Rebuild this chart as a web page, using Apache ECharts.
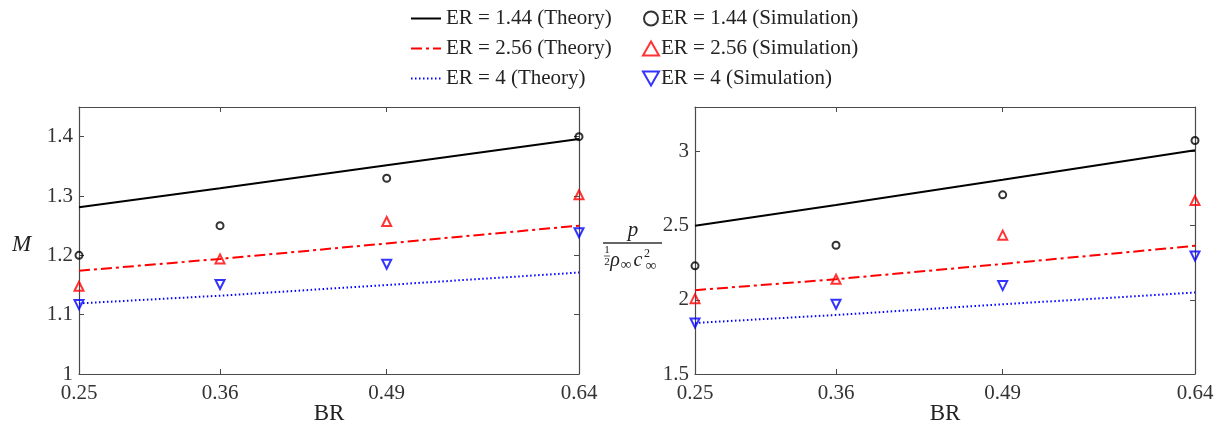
<!DOCTYPE html>
<html>
<head>
<meta charset="utf-8">
<script src="https://cdn.jsdelivr.net/npm/echarts@6/dist/echarts.min.js"></script>
<style>html,body{margin:0;padding:0;background:#fff}#c{width:1220px;height:431px}</style>
</head>
<body>
<div id="c"></div>
<script>
const BR = [0.25, 0.36, 0.49, 0.64];
const xTicks = [0.25, 0.36, 0.49, 0.64];
const mTicks = [1, 1.1, 1.2, 1.3, 1.4];
const pTicks = [1.5, 2, 2.5, 3];

const M_theory_144 = [1.281, 1.313, 1.352, 1.396];
const M_theory_256 = [1.174, 1.194, 1.220, 1.250];
const M_theory_4   = [1.119, 1.132, 1.150, 1.171];
const M_sim_144 = [1.200, 1.250, 1.330, 1.400];
const M_sim_256 = [1.148, 1.194, 1.257, 1.302];
const M_sim_4   = [1.117, 1.151, 1.185, 1.238];

const P_theory_144 = [2.500, 2.640, 2.809, 3.009];
const P_theory_256 = [2.065, 2.139, 2.242, 2.364];
const P_theory_4   = [1.844, 1.898, 1.970, 2.049];
const P_sim_144 = [2.229, 2.368, 2.708, 3.074];
const P_sim_256 = [2.008, 2.139, 2.436, 2.669];
const P_sim_4   = [1.844, 1.970, 2.096, 2.296];

const names = {
  t144: 'ER = 1.44 (Theory)', t256: 'ER = 2.56 (Theory)', t4: 'ER = 4 (Theory)',
  s144: 'ER = 1.44 (Simulation)', s256: 'ER = 2.56 (Simulation)', s4: 'ER = 4 (Simulation)'
};
const FONT = '"Liberation Serif", "Times New Roman", serif';
const AX = '#4a4a4a';
const DOWN_TRI = 'path://M0,0 L10,0 L5,8.66 Z';

function pairs(xs, ys) { return xs.map((x, i) => [x, ys[i]]); }

function theory(name, data, color, type, gi) {
  return {
    name, type: 'line', xAxisIndex: gi * 2, yAxisIndex: gi * 2,
    data: pairs(BR, data), symbol: 'none', z: 2,
    lineStyle: { color, width: 2, type }, itemStyle: { color }
  };
}
function sim(name, data, color, symbol, size, gi) {
  return {
    name, type: 'scatter', xAxisIndex: gi * 2, yAxisIndex: gi * 2,
    data: pairs(BR, data), symbol, symbolSize: size, z: 5,
    itemStyle: { color: 'rgba(255,255,255,0)', borderColor: color, borderWidth: 2 }
  };
}

function xAxes(gi) {
  const base = { type: 'value', gridIndex: gi, min: 0.25, max: 0.64,
    splitLine: { show: false },
    axisLine: { show: true, onZero: false, lineStyle: { color: AX, width: 1.2 } },
    axisTick: { show: true, inside: true, length: 5, customValues: xTicks, lineStyle: { color: AX } } };
  return [
    Object.assign({}, base, { position: 'bottom', name: 'BR', nameLocation: 'middle', nameGap: 28,
      nameMoveOverlap: false,
      nameTextStyle: { fontFamily: FONT, fontSize: 23, color: '#222' },
      axisLabel: { customValues: xTicks, fontFamily: FONT, fontSize: 21, color: '#333', margin: 9,
        formatter: v => String(v) } }),
    Object.assign({}, base, { position: 'top', axisLabel: { show: false } })
  ];
}
function yAxes(gi, min, max, ticks) {
  const base = { type: 'value', gridIndex: gi, min, max,
    splitLine: { show: false },
    axisLine: { show: true, onZero: false, lineStyle: { color: AX, width: 1.2 } },
    axisTick: { show: true, inside: true, length: 5, customValues: ticks, lineStyle: { color: AX } } };
  return [
    Object.assign({}, base, { position: 'left',
      axisLabel: { customValues: ticks, fontFamily: FONT, fontSize: 21, color: '#333', margin: 6,
        formatter: v => String(v) } }),
    Object.assign({}, base, { position: 'right', axisLabel: { show: false } })
  ];
}

const option = {
  animation: false,
  backgroundColor: '#fff',
  legend: [
    { left: 405, top: 3, orient: 'vertical', itemWidth: 30, itemHeight: 14, itemGap: 9,
      itemStyle: { opacity: 0 },
      textStyle: { fontFamily: FONT, fontSize: 21, lineHeight: 21, color: '#222', padding: [0, 0, 0, 0] },
      data: [names.t144, names.t256, names.t4] },
    { left: 637, top: 3, orient: 'vertical', itemWidth: 16, itemHeight: 14, itemGap: 9,
      textStyle: { fontFamily: FONT, fontSize: 21, lineHeight: 21, color: '#222', padding: [0, 0, 0, -3] },
      data: [names.s144, names.s256, names.s4] }
  ],
  grid: [
    { left: 79, top: 107, width: 500, bottom: 57, outerBoundsMode: 'none', containLabel: false },
    { left: 695, top: 107, width: 500, bottom: 57, outerBoundsMode: 'none', containLabel: false }
  ],
  xAxis: [...xAxes(0), ...xAxes(1)],
  yAxis: [...yAxes(0, 1, 1.45, mTicks), ...yAxes(1, 1.5, 3.3, pTicks)],
  series: [
    theory(names.t144, M_theory_144, '#000', 'solid', 0),
    theory(names.t256, M_theory_256, '#ff0000', [11, 4, 3, 4], 0),
    theory(names.t4, M_theory_4, '#0000ff', [1.5, 2.5], 0),
    sim(names.s144, M_sim_144, '#000', 'circle', 7, 0),
    sim(names.s256, M_sim_256, '#ff0000', 'triangle', 9, 0),
    sim(names.s4, M_sim_4, '#0000ff', DOWN_TRI, 9, 0),
    theory(names.t144, P_theory_144, '#000', 'solid', 1),
    theory(names.t256, P_theory_256, '#ff0000', [11, 4, 3, 4], 1),
    theory(names.t4, P_theory_4, '#0000ff', [1.5, 2.5], 1),
    sim(names.s144, P_sim_144, '#000', 'circle', 7, 1),
    sim(names.s256, P_sim_256, '#ff0000', 'triangle', 9, 1),
    sim(names.s4, P_sim_4, '#0000ff', DOWN_TRI, 9, 1)
  ],
  graphic: [
    { type: 'text', left: 12, top: 233, style: { text: 'M', font: 'italic 23px ' + FONT, fill: '#222' } },
    { type: 'text', x: 633, y: 230, style: { text: 'p', font: 'italic 21px ' + FONT, fill: '#222', align: 'center', verticalAlign: 'middle' } },
    { type: 'line', shape: { x1: 603, y1: 243, x2: 662, y2: 243 }, style: { stroke: '#333', lineWidth: 1.5 } },
    { type: 'text', x: 607, y: 250, style: { text: '1', font: '11px ' + FONT, fill: '#222', align: 'center', verticalAlign: 'middle' } },
    { type: 'line', shape: { x1: 604, y1: 256, x2: 610, y2: 256 }, style: { stroke: '#333', lineWidth: 0.8 } },
    { type: 'text', x: 607, y: 262, style: { text: '2', font: '11px ' + FONT, fill: '#222', align: 'center', verticalAlign: 'middle' } },
    { type: 'text', x: 615, y: 261, style: { text: 'ρ', font: 'italic 20px ' + FONT, fill: '#222', align: 'center', verticalAlign: 'middle' } },
    { type: 'text', x: 626, y: 265, style: { text: '∞', font: '15px ' + FONT, fill: '#222', align: 'center', verticalAlign: 'middle' } },
    { type: 'text', x: 638, y: 261, style: { text: 'c', font: 'italic 20px ' + FONT, fill: '#222', align: 'center', verticalAlign: 'middle' } },
    { type: 'text', x: 647, y: 254, style: { text: '2', font: '12px ' + FONT, fill: '#222', align: 'center', verticalAlign: 'middle' } },
    { type: 'text', x: 651, y: 266, style: { text: '∞', font: '15px ' + FONT, fill: '#222', align: 'center', verticalAlign: 'middle' } }
  ]
};
const chart = echarts.init(document.getElementById('c'), null, { renderer: 'canvas' });
chart.setOption(option);
</script>
</body>
</html>
